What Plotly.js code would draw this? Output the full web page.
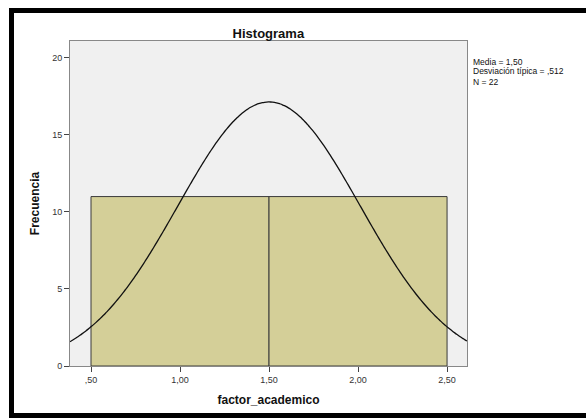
<!DOCTYPE html>
<html><head><meta charset="utf-8">
<script src="https://cdn.plot.ly/plotly-3.0.1.min.js"></script>
<style>
html,body{margin:0;padding:0;background:#fff;}
#wrap{position:relative;width:586px;height:418px;overflow:hidden;}
#chart{position:absolute;left:0;top:0;width:586px;height:418px;}
#frame{position:absolute;left:9px;top:8px;width:600px;height:400px;border:5px solid #000;pointer-events:none;}
</style></head>
<body>
<div id="wrap"><div id="chart"></div><div id="frame"></div></div>
<script>
const binCenters = [1.0, 2.0];
const binCounts = [11, 11];
const binWidth = 1.0;
const statMean = 1.50;
const statSD = 0.512;
const statN = 22;
const statLabels = ['Media = 1,50', 'Desviación típica = ,512', 'N = 22'];
const xTickVals = [0.5, 1.0, 1.5, 2.0, 2.5];
const xTickText = [",50", "1,00", "1,50", "2,00", "2,50"];
const yTickVals = [0, 5, 10, 15, 20];
const xRange = [0.382, 2.612];

// fitted normal curve from the reported statistics (Media, Desviación típica, N)
const curveX = [], curveY = [];
for (let i = 0; i <= 200; i++) {
  const x = xRange[0] + (xRange[1] - xRange[0]) * i / 200;
  const z = (x - statMean) / statSD;
  curveX.push(x);
  curveY.push(statN * binWidth / (statSD * Math.sqrt(2 * Math.PI)) * Math.exp(-0.5 * z * z));
}

const data = [
  {type: 'bar', x: binCenters, y: binCounts, width: binCenters.map(() => binWidth),
   marker: {color: '#D4CF98', line: {color: '#3a3a3a', width: 1}}, hoverinfo: 'skip'},
  {type: 'scatter', mode: 'lines', x: curveX, y: curveY,
   line: {color: '#111', width: 1.3, shape: 'spline'}, hoverinfo: 'skip'}
];

const statY = [0.936, 0.907, 0.875];

const layout = {
  width: 586, height: 418,
  margin: {l: 70, r: 119, t: 41, b: 52, pad: 0},
  paper_bgcolor: '#ffffff', plot_bgcolor: '#F0F0F0',
  showlegend: false, bargap: 0,
  font: {family: 'Arial, Liberation Sans, sans-serif', size: 9, color: '#333'},
  title: {text: '<b>Histograma</b>', font: {size: 13, color: '#111'}, x: 0.458, xanchor: 'center', y: 0.921, yanchor: 'middle'},
  xaxis: {range: xRange, tickvals: xTickVals, ticktext: xTickText, ticks: 'outside', ticklen: 5,
          tickcolor: '#444', showgrid: false, zeroline: false, showline: true, linecolor: '#888',
          mirror: true, linewidth: 1, tickfont: {size: 9, color: '#333'},
          title: {text: '<b>factor_academico</b>', font: {size: 12, color: '#111'}, standoff: 11}},
  yaxis: {range: [0, 21.1], tickvals: yTickVals, ticks: 'outside', ticklen: 5,
          tickcolor: '#444', showgrid: false, zeroline: false, showline: true, linecolor: '#888',
          mirror: true, linewidth: 1, tickfont: {size: 9, color: '#333'},
          title: {text: '<b>Frecuencia</b>', font: {size: 12, color: '#111'}, standoff: 9}},
  annotations: statLabels.map((t, i) => ({
    xref: 'paper', yref: 'paper', x: 1.01, y: statY[i], xanchor: 'left', yanchor: 'middle',
    showarrow: false, text: t, font: {size: 8.5, color: '#111'}
  }))
};

Plotly.newPlot('chart', data, layout, {displayModeBar: false, staticPlot: true});
</script>
</body></html>
